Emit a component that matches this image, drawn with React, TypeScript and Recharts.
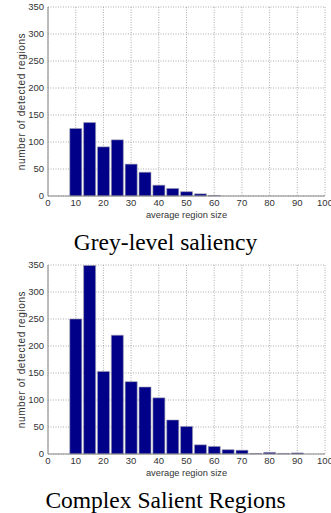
import React from 'react'
import { Bar, BarChart, CartesianGrid, XAxis, YAxis } from 'recharts'

const regionSizes = [10, 15, 20, 25, 30, 35, 40, 45, 50, 55, 60, 65, 70, 75, 80, 85, 90, 95]
const greyLevelCounts = [125, 136, 91, 104, 59, 44, 20, 14, 8, 4, 1, 0, 0, 0, 0, 0, 0, 0]
const complexCounts = [250, 349, 153, 220, 134, 124, 104, 63, 51, 17, 14, 8, 7, 1, 3, 1, 2, 0]
const xTicks = [0, 10, 20, 30, 40, 50, 60, 70, 80, 90, 100]
const yTicks = [0, 50, 100, 150, 200, 250, 300, 350]

const sans = 'Liberation Sans, Arial, sans-serif'
const tickStyle = { fill: '#333', fontSize: 9.5, fontFamily: sans }

function Histogram({ counts }: { counts: number[] }) {
  const data = regionSizes.map((s, i) => ({ size: s, count: counts[i] }))
  return (
    <BarChart width={331} height={222} data={data} margin={{ top: 7, right: 6, bottom: 0, left: 0 }}>
      <CartesianGrid stroke="#999" strokeDasharray="1 1.5" strokeWidth={0.8} />
      <XAxis
        dataKey="size"
        type="number"
        domain={[0, 100]}
        ticks={xTicks}
        interval={0}
        height={26}
        stroke="#888"
        tickLine={false}
        tickSize={0}
        tickMargin={3}
        tick={tickStyle}
        label={{ value: 'average region size', position: 'insideBottom', offset: 4, fill: '#333', fontSize: 9.3, fontFamily: sans }}
      />
      <YAxis
        type="number"
        domain={[0, 350]}
        ticks={yTicks}
        interval={0}
        width={48}
        stroke="#888"
        tickLine={false}
        tickSize={0}
        tickMargin={4}
        tick={tickStyle}
        label={{ value: 'number of detected regions', angle: -90, position: 'insideLeft', offset: 21, fill: '#333', fontSize: 10, fontFamily: sans, style: { textAnchor: 'middle', letterSpacing: 0.6 } }}
      />
      <Bar dataKey="count" barSize={12} fill="#000088" stroke="#a0a0b0" strokeWidth={0.6} isAnimationActive={false} />
    </BarChart>
  )
}

const captionStyle: React.CSSProperties = {
  width: 331,
  textAlign: 'center',
  fontFamily: 'Liberation Serif, Times New Roman, serif',
  fontSize: 23.5,
  color: '#000',
}

export default function App() {
  return (
    <div style={{ position: 'absolute', left: 0, top: 0, width: 331, height: 513, background: '#fff' }}>
      <Histogram counts={greyLevelCounts} />
      <div style={{ ...captionStyle, height: 36, lineHeight: '40px' }}>Grey-level saliency</div>
      <Histogram counts={complexCounts} />
      <div style={{ ...captionStyle, height: 33, lineHeight: '40px' }}>Complex Salient Regions</div>
    </div>
  )
}
